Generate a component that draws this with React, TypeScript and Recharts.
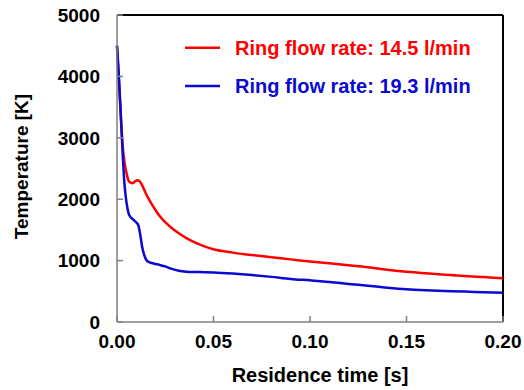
import { LineChart, Line, XAxis, YAxis, ReferenceLine, Legend } from "recharts"

const time = [
  0, 0.001, 0.002, 0.003, 0.004, 0.005, 0.006, 0.007, 0.008, 0.009, 0.01, 0.011, 0.012, 0.013, 0.014, 0.015,
  0.016, 0.018, 0.02, 0.022, 0.025, 0.028, 0.032, 0.036, 0.04, 0.045, 0.05, 0.06, 0.07, 0.08, 0.09, 0.1, 0.11,
  0.12, 0.13, 0.14, 0.15, 0.16, 0.17, 0.18, 0.19, 0.2,
]

const ring145 = [
  4500, 3900, 3350, 2850, 2580, 2420, 2300, 2270, 2260, 2280, 2305, 2310, 2280, 2230, 2160, 2090,
  2030, 1920, 1820, 1730, 1625, 1540, 1445, 1365, 1300, 1235, 1185, 1130, 1090, 1055, 1020, 985, 955,
  925, 893, 850, 818, 793, 771, 750, 731, 712,
]

const ring193 = [
  4500, 4000, 3350, 2700, 2200, 1930, 1770, 1710, 1680, 1650, 1620, 1580, 1430, 1230, 1100, 1020,
  985, 960, 945, 930, 905, 870, 835, 820, 815, 812, 808, 790, 765, 735, 702, 678, 652,
  620, 590, 558, 532, 516, 505, 495, 485, 475,
]

const xTicks = [0, 0.05, 0.1, 0.15, 0.2]
const yTicks = [0, 1000, 2000, 3000, 4000, 5000]

const seriesNames = ["Ring flow rate: 14.5 l/min", "Ring flow rate: 19.3 l/min"]

const data = time.map((t, i) => ({ t, a: ring145[i], b: ring193[i] }))

const font = "'Liberation Sans', Arial, sans-serif"
const tickStyle = { fontFamily: font, fontWeight: 700, fontSize: 19, fill: "#000" }

function LegendBox(props: any) {
  const items = props.payload || []
  return (
    <svg width={320} height={80}>
      {items.map((it: any, i: number) => (
        <g key={i}>
          <line x1={5} x2={40} y1={22.7 + i * 38.3} y2={22.7 + i * 38.3} stroke={it.color} strokeWidth={2.5} />
          <text x={55} y={30 + i * 38.3} fill={it.color} fontFamily={font} fontWeight={700} fontSize={20}>
            {it.value}
          </text>
        </g>
      ))}
    </svg>
  )
}

export default function App() {
  return (
    <div style={{ position: "absolute", left: 0, top: 0, background: "#fff" }}>
      <LineChart width={524} height={390} data={data} margin={{ top: 15, right: 21, left: 0, bottom: 0 }}>
        <XAxis
          dataKey="t"
          type="number"
          domain={[0, 0.2]}
          ticks={xTicks}
          tickFormatter={(v) => v.toFixed(2)}
          height={68}
          stroke="#808080"
          strokeWidth={1.5}
          tickSize={-6}
          tickMargin={19}
          tick={tickStyle}
          label={{
            value: "Residence time [s]",
            position: "insideBottom",
            offset: 8,
            dx: 10,
            style: { fontFamily: font, fontWeight: 700, fontSize: 20, fill: "#000" },
          }}
        />
        <YAxis
          type="number"
          domain={[0, 5000]}
          ticks={yTicks}
          width={117}
          stroke="#808080"
          strokeWidth={1.5}
          tickSize={-6}
          tickMargin={23}
          tick={tickStyle}
          label={{
            value: "Temperature [K]",
            angle: -90,
            position: "insideLeft",
            offset: 21,
            dy: -2,
            style: { textAnchor: "middle", fontFamily: font, fontWeight: 700, fontSize: 19, fill: "#000" },
          }}
        />
        <ReferenceLine y={5000} stroke="#000" strokeWidth={2} />
        <ReferenceLine x={0.2} stroke="#000" strokeWidth={2} />
        <Legend
          layout="horizontal"
          verticalAlign="middle"
          content={LegendBox}
          wrapperStyle={{ position: "absolute", left: 180, top: 25, width: 320, height: 80 }}
        />
        <Line dataKey="a" name={seriesNames[0]} type="monotone" stroke="#ff0000" strokeWidth={2.5} dot={false} isAnimationActive={false} />
        <Line dataKey="b" name={seriesNames[1]} type="monotone" stroke="#0a0ad2" strokeWidth={2.5} dot={false} isAnimationActive={false} />
      </LineChart>
    </div>
  )
}
